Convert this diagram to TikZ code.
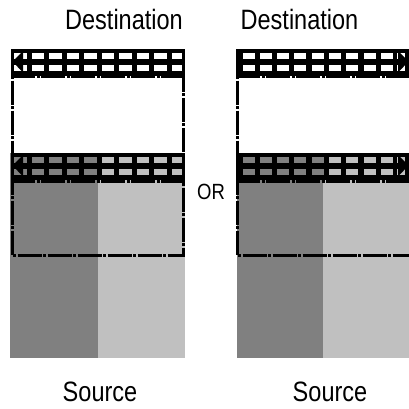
\documentclass[tikz,border=0pt]{standalone}
\usepackage{fontspec}
\setmainfont{Liberation Sans}
\definecolor{srcdark}{HTML}{808080}
\definecolor{srclight}{HTML}{C0C0C0}
\tikzset{
  dashborder/.style={line width=3pt, dash pattern=on 24pt off 1.5pt on 3pt off 1.5pt},
  lbl/.style={inner sep=0pt, anchor=base, text=black},
}
\newcommand{\bigtxt}[1]{\fontsize{28pt}{30pt}\selectfont\scalebox{0.84}[1]{#1}}
\newcommand{\smalltxt}[1]{\fontsize{22pt}{24pt}\selectfont\scalebox{0.84}[1]{#1}}
\begin{document}
\begin{tikzpicture}[x=1pt,y=-1pt]
\clip (0,0) rectangle (409,408);
\fill[white] (0,0) rectangle (409,408);

% ---------------- left panel ----------------
% source
\fill[srcdark] (10,153) rectangle (98,358);
\fill[srclight] (98,153) rectangle (185,358);
% top band
\fill[black] (11,49) rectangle (185,75.5);
\foreach \k in {0,...,9}{
  \pgfmathsetmacro{\xa}{14+17.5*\k}
  \pgfmathsetmacro{\xb}{min(\xa+12.5,182)}
  \fill[white] (\xa,53) rectangle (\xb,59);
  \fill[white] (\xa,64.5) rectangle (\xb,71);
}
\fill[black] (12.5,61.5) -- (23,51) -- (23,72.5) -- cycle;
\draw[dashborder] (11,76.5) -- (185,76.5);
% bottom band
\fill[black] (11,152.5) rectangle (185,180);
\foreach \k in {0,...,9}{
  \pgfmathsetmacro{\xa}{14+17.5*\k}
  \pgfmathsetmacro{\xb}{min(\xa+12.5,182)}
  \pgfmathsetmacro{\c}{\xa<98 ? 1 : 0}
  \ifdim\c pt>0.5pt
    \fill[srcdark] (\xa,156.5) rectangle (\xb,163);
    \fill[srcdark] (\xa,168.5) rectangle (\xb,175);
  \else
    \fill[srclight] (\xa,156.5) rectangle (\xb,163);
    \fill[srclight] (\xa,168.5) rectangle (\xb,175);
  \fi
}
\fill[black] (12.5,165.5) -- (23,155) -- (23,176.5) -- cycle;
\draw[dashborder] (11,181) -- (185,181);
% destination outline
\draw[dashborder] (12.5,50.5) rectangle (183.5,255.5);

% ---------------- right panel ----------------
\fill[srcdark] (237,153) rectangle (323,358);
\fill[srclight] (323,153) rectangle (412,358);
% top band
\fill[black] (236,49) rectangle (412,75.5);
\foreach \k in {0,...,8}{
  \pgfmathsetmacro{\xa}{242.5+17.3*\k}
  \pgfmathsetmacro{\xb}{\xa+12}
  \fill[white] (\xa,53) rectangle (\xb,59);
  \fill[white] (\xa,64.5) rectangle (\xb,71);
}
\fill[white] (397,53) rectangle (405,59);
\fill[white] (397,64.5) rectangle (405,71);
\fill[black] (408.5,61.5) -- (398,51) -- (398,72.5) -- cycle;
\draw[dashborder] (236,76.5) -- (412,76.5);
% bottom band
\fill[black] (236,152.5) rectangle (412,180);
\foreach \k in {0,...,8}{
  \pgfmathsetmacro{\xa}{242.5+17.3*\k}
  \pgfmathsetmacro{\xb}{\xa+12}
  \pgfmathsetmacro{\c}{\xa<320 ? 1 : 0}
  \ifdim\c pt>0.5pt
    \fill[srcdark] (\xa,156.5) rectangle (\xb,163);
    \fill[srcdark] (\xa,168.5) rectangle (\xb,175);
  \else
    \fill[srclight] (\xa,156.5) rectangle (\xb,163);
    \fill[srclight] (\xa,168.5) rectangle (\xb,175);
  \fi
}
\fill[srclight] (397,156.5) rectangle (405,163);
\fill[srclight] (397,168.5) rectangle (405,175);
\fill[black] (408.5,165.5) -- (398,155) -- (398,176.5) -- cycle;
\draw[dashborder] (236,181) -- (412,181);
% destination outline
\draw[dashborder] (237.5,50.5) rectangle (413,255.5);

% ---------------- labels ----------------
\node[lbl] (destL) at (124,29.3) {\bigtxt{Destination}};
\node[lbl] (destR) at (299.5,29.3) {\bigtxt{Destination}};
\node[lbl] (srcL) at (100,401.5) {\bigtxt{Source}};
\node[lbl] (srcR) at (330,401.5) {\bigtxt{Source}};
\node[lbl] (orL) at (211,199) {\smalltxt{OR}};
\end{tikzpicture}
\end{document}
